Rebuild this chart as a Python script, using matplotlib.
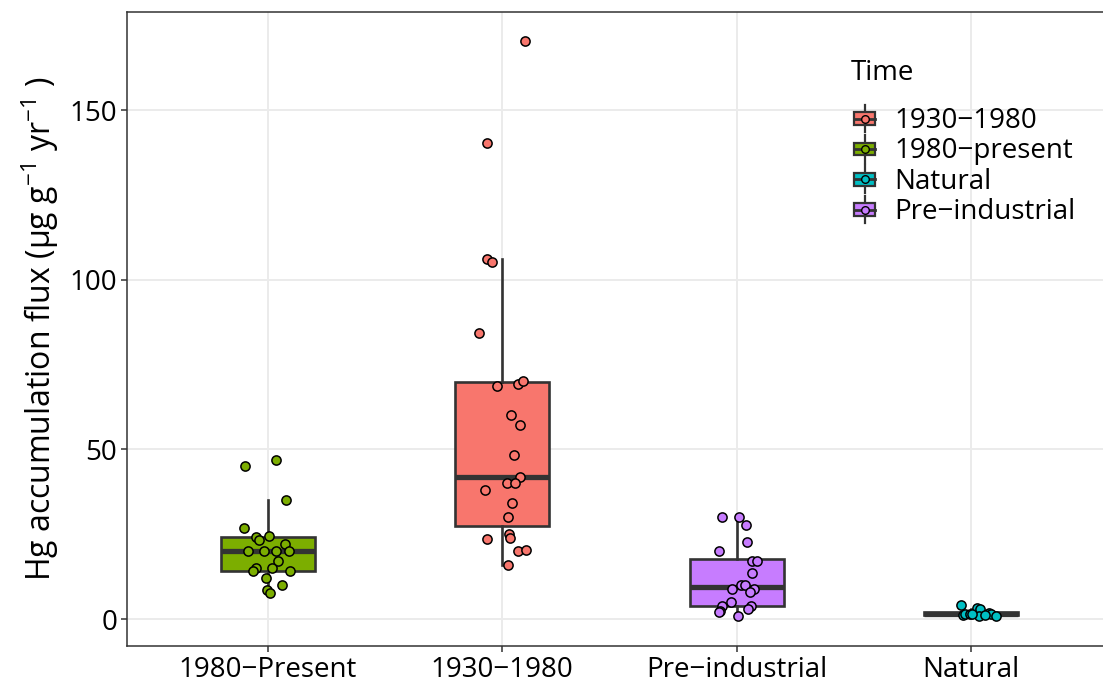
import matplotlib
matplotlib.use("Agg")
import matplotlib.pyplot as plt
from matplotlib.patches import Rectangle, Patch
from matplotlib.lines import Line2D
from matplotlib.legend_handler import HandlerBase

FONT = "Open Sans"
plt.rcParams["font.family"] = [FONT, "DejaVu Sans"]
plt.rcParams["mathtext.fontset"] = "custom"
plt.rcParams["mathtext.rm"] = FONT
plt.rcParams["mathtext.default"] = "regular"

# --- data (values, and jitter offsets in category units) ---
categories = ["1980\u2212Present", "1930\u22121980", "Pre\u2212industrial", "Natural"]
group_keys = ["1980-present", "1930-1980", "Pre-industrial", "Natural"]

present_vals = [45.2, 46.9, 35.1, 27.0, 24.1, 23.3, 24.6, 22.1, 20.1, 20.1, 20.1,
                20.1, 17.1, 15.2, 14.2, 15.2, 14.1, 12.1, 10.0, 8.5, 7.6]
present_jit = [-0.098, 0.035, 0.078, -0.102, -0.050, -0.038, 0.006, 0.075, -0.084,
               -0.016, 0.037, 0.091, 0.045, -0.051, -0.061, 0.017, 0.096, -0.009,
               0.062, -0.002, 0.011]

mid_vals = [170.4, 140.3, 106.2, 105.1, 84.2, 68.7, 69.4, 70.1, 60.1, 57.1, 48.3,
            41.8, 40.1, 40.1, 38.0, 34.1, 30.1, 25.1, 24.0, 23.6, 20.0, 20.5, 16.0]
mid_jit = [0.099, -0.066, -0.066, -0.043, -0.098, -0.022, 0.069, 0.090, 0.036,
           0.075, 0.050, 0.077, 0.020, 0.053, -0.072, 0.041, 0.026, 0.029, 0.035,
           -0.064, 0.069, 0.100, 0.026]

pre_vals = [30.2, 30.2, 27.7, 22.6, 20.0, 17.0, 17.0, 13.7, 10.0, 10.0, 9.0, 9.0,
            8.1, 5.1, 4.0, 4.0, 2.9, 2.4, 2.0, 1.0]
pre_jit = [-0.064, 0.011, 0.040, 0.044, -0.074, 0.067, 0.087, 0.065, 0.017, 0.035,
           -0.019, 0.074, 0.058, -0.024, -0.063, 0.062, 0.049, -0.071, -0.077, 0.004]

nat_vals = [4.1, 1.2, 1.5, 1.4, 3.4, 3.1, 1.0, 1.7, 1.5, 0.8, 1.6, 1.3]
nat_jit = [-0.043, -0.034, -0.025, -0.004, 0.025, 0.038, 0.035, 0.075, 0.084,
           0.106, 0.003, 0.059]

values = [present_vals, mid_vals, pre_vals, nat_vals]
jitter = [present_jit, mid_jit, pre_jit, nat_jit]

colors = {"1930-1980": "#F8766D", "1980-present": "#7CAE00",
          "Natural": "#00BFC4", "Pre-industrial": "#C77CFF"}
legend_labels = ["1930\u22121980", "1980\u2212present", "Natural", "Pre\u2212industrial"]
legend_keys = ["1930-1980", "1980-present", "Natural", "Pre-industrial"]

DARK = "#333333"


class BoxKey(HandlerBase):
    """ggplot-like boxplot legend key with a point on top."""

    def create_artists(self, legend, orig_handle, xdescent, ydescent, width,
                       height, fontsize, trans):
        fc = orig_handle.get_facecolor()
        cx = -xdescent + width / 2
        cy = -ydescent + height / 2
        bw, bh = width * 0.76, height * 0.55
        whisk = [Line2D([cx, cx], [cy + bh / 2, cy + height * 0.6], color=DARK, lw=1.6),
                 Line2D([cx, cx], [cy - bh / 2, cy - height * 0.6], color=DARK, lw=1.6)]
        box = Rectangle((cx - bw / 2, cy - bh / 2), bw, bh, facecolor=fc,
                        edgecolor=DARK, lw=1.6)
        med = Line2D([cx - bw / 2, cx + bw / 2], [cy, cy], color=DARK, lw=2.0)
        pt = Line2D([cx], [cy], marker="o", ms=5.5, mfc=fc, mec="black", mew=1.0, ls="")
        arts = whisk + [box, med, pt]
        for a in arts:
            a.set_transform(trans)
        return arts


fig = plt.figure(figsize=(11.03, 6.84), dpi=100)
ax = fig.add_axes([127 / 1103, 1 - 646 / 684, (1112 - 127) / 1103, (646 - 12) / 684])

ax.set_axisbelow(True)
ax.grid(True, color="#EBEBEB", lw=1.4)

positions = [1, 2, 3, 4]
bp = ax.boxplot(values, positions=positions, widths=0.4, patch_artist=True,
                showfliers=False, showcaps=False, whis=1.5,
                boxprops=dict(edgecolor=DARK, lw=1.9),
                whiskerprops=dict(color=DARK, lw=1.9),
                medianprops=dict(color=DARK, lw=3.8, solid_capstyle="butt"),
                zorder=2)
for patch, key in zip(bp["boxes"], group_keys):
    patch.set_facecolor(colors[key])

for pos, vals, jit, key in zip(positions, values, jitter, group_keys):
    xs = [pos + j for j in jit]
    ax.scatter(xs, vals, s=44, facecolor=colors[key], edgecolor="black",
               linewidth=1.1, zorder=3)

ax.set_xlim(0.4, 4.6)
ax.set_ylim(-7.9, 178.9)
ax.set_xticks(positions)
ax.set_xticklabels(categories)
ax.set_yticks([0, 50, 100, 150])
ax.tick_params(axis="both", labelsize=20, colors=DARK, length=4, width=1.1,
               labelcolor="black", pad=3)
ax.set_ylabel("Hg accumulation flux (\u03bcg g$^{-1}$ yr$^{-1}$ )", fontsize=23,
              labelpad=6)
for side in ["left", "bottom", "top"]:
    ax.spines[side].set_color(DARK)
    ax.spines[side].set_linewidth(1.1)
ax.spines["right"].set_visible(False)

# legend title drawn separately so its gap to the keys matches ggplot
fig.text(851 / 1103, 1 - 73 / 684, "Time", fontsize=20, ha="left", va="center")
handles = [Patch(facecolor=colors[k]) for k in legend_keys]
leg = fig.legend(handles, legend_labels, loc="upper left",
                 bbox_to_anchor=(851 / 1103, 1 - 107 / 684), frameon=False,
                 fontsize=20, handler_map={Patch: BoxKey()},
                 handlelength=1.0, handleheight=0.9, handletextpad=0.57,
                 labelspacing=0.08, borderpad=0, borderaxespad=0)

fig.savefig("out.png", dpi=100)
